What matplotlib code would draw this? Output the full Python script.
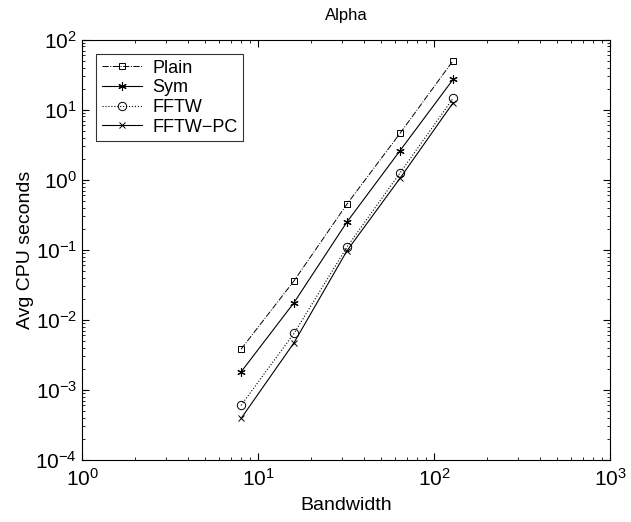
import matplotlib
matplotlib.use("Agg")
import matplotlib.pyplot as plt

plt.rcParams["font.family"] = ["Liberation Sans", "DejaVu Sans"]

bandwidth = [8, 16, 32, 64, 128]

plain = [3.8e-3, 0.036, 0.45, 4.6, 50]
sym = [1.8e-3, 0.0176, 0.25, 2.6, 27]
fftw = [6.0e-4, 6.4e-3, 0.11, 1.25, 14.5]
fftw_pc = [3.9e-4, 4.7e-3, 0.097, 1.05, 12.5]

fig = plt.figure(figsize=(6.31, 5.22), dpi=100)
ax = fig.add_axes([0.13, 0.119, 0.837, 0.805])

ax.loglog(bandwidth, plain, '-.', marker='s', color='k', lw=0.7, ms=5, mfc='none', mew=0.7, label='Plain')
ax.loglog(bandwidth, sym, '-', marker=(6, 2, 0), color='k', lw=0.8, ms=6, mew=0.8, label='Sym')
ax.loglog(bandwidth, fftw, ':', marker='o', color='k', lw=0.8, ms=6, mfc='none', mew=0.7, label='FFTW')
ax.loglog(bandwidth, fftw_pc, '-', marker='x', color='k', lw=0.8, ms=5, mew=0.7, label='FFTW\u2212PC')

ax.set_xlim(1, 1000)
ax.set_ylim(1e-4, 100)
ax.tick_params(which='both', direction='in', top=True, right=True, labelsize=15)
ax.tick_params(which='major', length=5)
ax.tick_params(which='minor', length=2.5)
ax.tick_params(axis='x', which='major', pad=6)

ax.set_xlabel('Bandwidth', fontsize=14, labelpad=5)
ax.set_ylabel('Avg CPU seconds', fontsize=14, labelpad=1)
ax.set_title('Alpha', fontsize=12, pad=14)

leg = ax.legend(loc='upper left', fontsize=13, fancybox=False, edgecolor='k',
                handlelength=2.2, borderaxespad=0.8, labelspacing=0.15,
                borderpad=0.3, handletextpad=0.6)
leg.get_frame().set_linewidth(0.8)

fig.savefig("out.png", dpi=100)
